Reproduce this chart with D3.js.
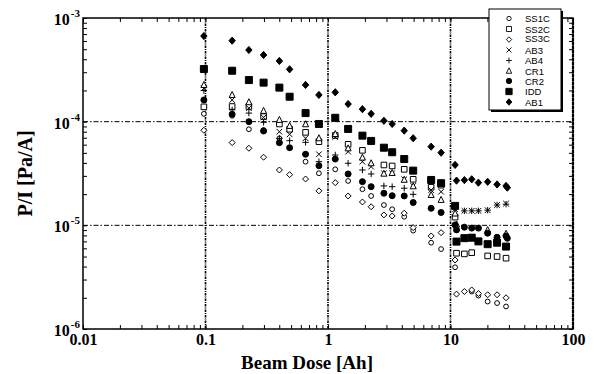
<!DOCTYPE html>
<html><head><meta charset="utf-8">
<script src="https://cdn.jsdelivr.net/npm/d3@7"></script>
<style>body{margin:0;background:#fff}svg{display:block}</style>
</head><body>
<svg id="c" width="598" height="374"></svg>
<script>
const doses = [0.097,0.165,0.226,0.298,0.401,0.486,0.656,0.843,1.146,1.46,1.91,2.25,2.86,3.34,4.19,4.96,6.95,8.38,10.9,11.2,12.98,14.9,16.9,20.1,24.0,28.4,29.1];
const ss1c = [1.19e-4,1.14e-4,8.45e-5,8.3e-5,6.9e-5,null,4.11e-5,3.18e-5,3.47e-5,2.68e-5,2.23e-5,1.92e-5,1.57e-5,1.43e-5,1.21e-5,8.9e-6,6.8e-6,5.9e-6,3.94e-6,null,null,2.3e-6,2.1e-6,1.84e-6,1.78e-6,1.65e-6,null];
const ss2c = [1.39e-4,1.40e-4,1.40e-4,1.12e-4,9.5e-5,8.45e-5,7.89e-5,6.41e-5,7.36e-5,6.05e-5,5.29e-5,null,3.82e-5,3.74e-5,3.47e-5,2.78e-5,2.33e-5,2.44e-5,1.2e-5,5.38e-6,5.3e-6,5.45e-6,null,5.07e-6,5.0e-6,4.82e-6,null];
const ss3c = [8.26e-5,6.28e-5,5.54e-5,4.54e-5,3.42e-5,3.08e-5,2.80e-5,2.15e-5,2.58e-5,1.92e-5,1.68e-5,1.51e-5,1.26e-5,1.23e-5,1.31e-5,9.5e-6,7.9e-6,8.5e-6,4.63e-6,2.17e-6,2.30e-6,2.38e-6,2.2e-6,2.14e-6,2.14e-6,2.0e-6,null];
const ab3 = [2.10e-4,1.62e-4,1.35e-4,1.10e-4,8.0e-5,7.55e-5,6.92e-5,4.85e-5,7.11e-5,5.14e-5,4.11e-5,3.68e-5,3.18e-5,3.18e-5,2.78e-5,2.40e-5,2.19e-5,2.11e-5,1.43e-5,null,1.38e-5,1.38e-5,1.38e-5,1.40e-5,1.57e-5,1.62e-5,null];
const ab4 = [2.0e-4,1.30e-4,1.21e-4,9.86e-5,6.9e-5,6.56e-5,6.32e-5,4.11e-5,4.77e-5,3.97e-5,3.42e-5,3.13e-5,2.40e-5,2.36e-5,2.28e-5,1.99e-5,null,null,1.47e-5,null,1.38e-5,1.38e-5,1.38e-5,1.40e-5,1.57e-5,1.6e-5,null];
const cr1 = [2.26e-4,1.81e-4,1.54e-4,1.27e-4,1.04e-4,9.1e-5,9.44e-5,6.92e-5,7.6e-5,5.53e-5,4.50e-5,3.97e-5,3.15e-5,3.2e-5,2.75e-5,2.38e-5,1.96e-5,1.76e-5,1.3e-5,1.02e-5,null,null,null,9.0e-6,null,8.3e-6,null];
const cr2 = [1.62e-4,1.18e-4,1.0e-4,8.13e-5,6.27e-5,5.61e-5,4.85e-5,3.76e-5,4.36e-5,3.13e-5,2.64e-5,2.36e-5,2.04e-5,1.93e-5,1.92e-5,1.66e-5,1.46e-5,1.33e-5,1.01e-5,9.04e-6,9.6e-6,9.4e-6,9.4e-6,8.4e-6,7.67e-6,7.9e-6,7.5e-6];
const idd = [3.22e-4,3.1e-4,2.52e-4,2.38e-4,2.13e-4,1.74e-4,1.21e-4,9.5e-5,1.09e-4,8.51e-5,7.33e-5,6.52e-5,5.61e-5,5.07e-5,4.36e-5,3.37e-5,2.74e-5,2.55e-5,1.54e-5,6.97e-6,7.52e-6,7.6e-6,7.0e-6,6.58e-6,6.8e-6,6.24e-6,null];
const ab1 = [6.7e-4,6.04e-4,4.91e-4,4.40e-4,3.85e-4,3.2e-4,2.26e-4,1.81e-4,1.92e-4,1.48e-4,1.32e-4,1.19e-4,1.02e-4,9.5e-5,8.19e-5,6.92e-5,5.74e-5,5.02e-5,3.83e-5,2.70e-5,2.73e-5,2.78e-5,2.58e-5,2.63e-5,2.48e-5,2.40e-5,2.31e-5];

const seriesNames = ["SS1C","SS2C","SS3C","AB3","AB4","CR1","CR2","IDD","AB1"];
const seriesValues = [ss1c,ss2c,ss3c,ab3,ab4,cr1,cr2,idd,ab1];
const seriesMarkers = ["ocircle","osquare","odiamond","x","plus","otriangle","fcircle","fsquare","fdiamond"];
const xTickLabels = ["0.01","0.1","1","10","100"];
const xTickValues = [0.01,0.1,1,10,100];
const yTickValues = [1e-6,1e-5,1e-4,1e-3];
const yTickExps = ["-6","-5","-4","-3"];

const svg = d3.select("#c");
const L=83,R=573,T=18,B=329;
const x = d3.scaleLog().domain([0.01,100]).range([L,R]);
const y = d3.scaleLog().domain([1e-6,1e-3]).range([B,T]);
const serif = "'Liberation Serif','Times New Roman',serif";

const xMinor=[], yMinor=[];
for (let e=-2;e<2;e++) for (let m=1;m<10;m++) xMinor.push(m*Math.pow(10,e));
xMinor.push(100);
for (let e=-6;e<-3;e++) for (let m=1;m<10;m++) yMinor.push(m*Math.pow(10,e));
yMinor.push(1e-3);

// gridlines
const grid = svg.append("g");
grid.selectAll("line.vx").data([0.1,1,10]).join("line")
  .attr("x1",d=>x(d)).attr("x2",d=>x(d)).attr("y1",T).attr("y2",B)
  .attr("stroke","#000").attr("stroke-width",1.6).attr("stroke-dasharray","2.5,1,1,1");
grid.selectAll("line.hy").data([1e-5,1e-4]).join("line")
  .attr("y1",d=>y(d)).attr("y2",d=>y(d)).attr("x1",L).attr("x2",R)
  .attr("stroke","#000").attr("stroke-width",1).attr("stroke-dasharray","5,2,1.5,2");

function styleAxis(g){ g.select(".domain").remove(); g.selectAll("line").attr("stroke","#000").attr("stroke-width",1); }
const fmtNone = ()=>"";
svg.append("g").attr("transform",`translate(0,${B})`).call(d3.axisBottom(x).tickValues(xMinor).tickSize(-4).tickFormat(fmtNone)).call(styleAxis);
svg.append("g").attr("transform",`translate(0,${T})`).call(d3.axisTop(x).tickValues(xMinor).tickSize(-4).tickFormat(fmtNone)).call(styleAxis);
svg.append("g").attr("transform",`translate(${L},0)`).call(d3.axisLeft(y).tickValues(yMinor).tickSize(-4).tickFormat(fmtNone)).call(styleAxis);
svg.append("g").attr("transform",`translate(${R},0)`).call(d3.axisRight(y).tickValues(yMinor).tickSize(-4).tickFormat(fmtNone)).call(styleAxis);

// frame
svg.append("rect").attr("x",L).attr("y",T).attr("width",R-L).attr("height",B-T)
  .attr("fill","none").attr("stroke","#000").attr("stroke-width",1.5);
svg.append("line").attr("x1",R).attr("x2",R).attr("y1",T).attr("y2",B)
  .attr("stroke","#000").attr("stroke-width",2.2).attr("stroke-dasharray","3,1");

// x tick labels
const xl = svg.append("g").attr("transform",`translate(0,${B})`)
  .call(d3.axisBottom(x).tickValues(xTickValues).tickSize(0).tickPadding(5).tickFormat((d,i)=>xTickLabels[i]));
xl.select(".domain").remove();
xl.selectAll("text").attr("font-family",serif).attr("font-weight","bold").attr("font-size",16).attr("fill","#000");

// y tick labels with superscript
const yl = svg.append("g");
yTickValues.forEach((v,i)=>{
  const t = yl.append("text").attr("x",L-3).attr("y",y(v)+7).attr("text-anchor","end")
    .attr("font-family",serif).attr("font-weight","bold").attr("font-size",16).attr("fill","#000");
  t.append("tspan").text("10");
  t.append("tspan").attr("dy",-8).attr("dx",1).attr("font-size",11).text(yTickExps[i]);
});

// axis titles
svg.append("text").attr("x",307).attr("y",369).attr("text-anchor","middle")
  .attr("font-family",serif).attr("font-weight","bold").attr("font-size",19).text("Beam Dose [Ah]");
svg.append("text").attr("transform",`translate(32,${(T+B)/2}) rotate(-90)`).attr("text-anchor","middle")
  .attr("font-family",serif).attr("font-weight","bold").attr("font-size",20).text("P/I [Pa/A]");

// marker paths
function markerPath(type){
  switch(type){
    case "ocircle": case "fcircle": { const r = type==="ocircle"?2.4:3; return `M${r},0A${r},${r},0,1,1,${-r},0A${r},${r},0,1,1,${r},0Z`; }
    case "osquare": return "M-2.8,-2.8H2.8V2.8H-2.8Z";
    case "fsquare": return "M-3.5,-3.5H3.5V3.5H-3.5Z";
    case "odiamond": return "M0,-3L3,0L0,3L-3,0Z";
    case "fdiamond": return "M0,-3.6L3.2,0L0,3.6L-3.2,0Z";
    case "x": return "M-2.8,-2.8L2.8,2.8M-2.8,2.8L2.8,-2.8";
    case "plus": return "M-3.2,0H3.2M0,-3.2V3.2";
    case "otriangle": return "M0,-3.5L3,2.5H-3Z";
  }
}
function markerStyle(sel,type){
  const filled = type[0]==="f";
  sel.attr("fill", filled?"#000":(type==="x"||type==="plus"?"none":"#fff"))
     .attr("stroke","#000").attr("stroke-width",1);
}

const plot = svg.append("g");
seriesValues.forEach((vals,si)=>{
  const type = seriesMarkers[si];
  const pts = doses.map((d,i)=>({d,v:vals[i]})).filter(p=>p.v!=null);
  plot.append("g").selectAll("path").data(pts).join("path")
    .attr("d",markerPath(type))
    .attr("transform",p=>`translate(${x(p.d)},${y(p.v)})`)
    .call(markerStyle,type);
});

// legend
const lg = svg.append("g");
lg.append("rect").attr("x",491).attr("y",11).attr("width",72).attr("height",101).attr("fill","#000");
lg.append("rect").attr("x",489).attr("y",9).attr("width",72).attr("height",101).attr("fill","#fff").attr("stroke","#000").attr("stroke-width",1);
const legY = [18.5,29,39.5,50,60.5,71,81,91.5,102];
const legTextDy = [0,0,-1,0,0,0,0,0,0];
seriesNames.forEach((n,i)=>{
  const type = seriesMarkers[i];
  lg.append("path").attr("d",markerPath(type)).attr("transform",`translate(509,${legY[i]}) scale(0.9)`).call(markerStyle,type);
  lg.append("text").attr("x",525).attr("y",legY[i]+3.5+legTextDy[i]).attr("font-family","'Liberation Sans',Arial,sans-serif").attr("font-size",9.5).text(n);
});
</script>
</body></html>
